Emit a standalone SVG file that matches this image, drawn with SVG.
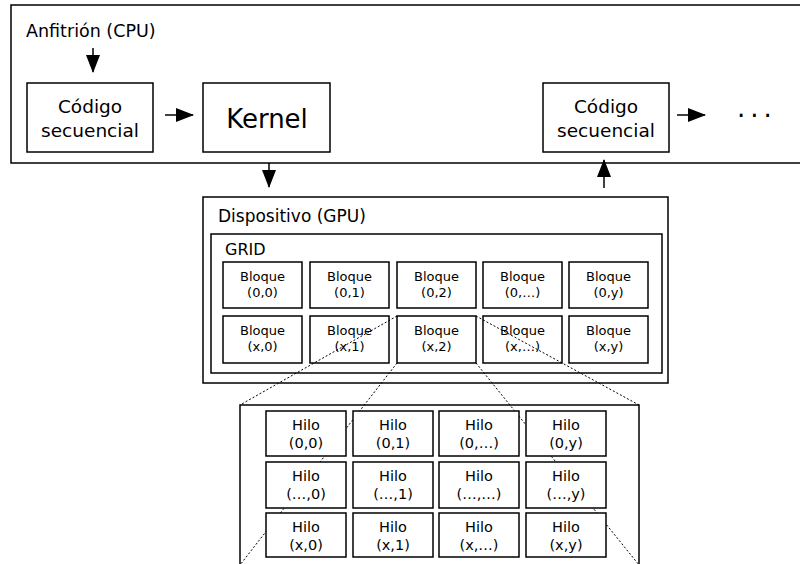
<svg xmlns="http://www.w3.org/2000/svg" width="800" height="564" viewBox="0 0 800 564">
<defs>
<style>
.box{fill:#fff;stroke:#000;stroke-width:1.5}
.frame{fill:none;stroke:#000;stroke-width:1.5}
.t{font-family:"DejaVu Sans","Liberation Sans",sans-serif;fill:#000}
.c{text-anchor:middle}
.arr{stroke:#000;stroke-width:1.5;fill:none;marker-end:url(#ah)}
.dot{stroke:#000;stroke-width:1;stroke-dasharray:2 2;fill:none}
.b{font-size:13px}
.h{font-size:14.5px}
</style>
<marker id="ah" viewBox="0 0 18 14" refX="17" refY="7" markerWidth="18" markerHeight="14" markerUnits="userSpaceOnUse" orient="auto">
<path d="M0,0 L18,7 L0,14 z" fill="#000"/>
</marker>
</defs>
<rect width="800" height="564" fill="#fff"/>

<g id="host">
<rect class="frame" x="11" y="5" width="800" height="158"/>
<text class="t" x="26" y="37" font-size="17.5">Anfitrión (CPU)</text>
</g>
<g id="codigo1">
<rect class="box" x="27" y="83" width="126" height="69"/>
<text class="t c" x="90" y="113" font-size="18.5">Código</text>
<text class="t c" x="90" y="137" font-size="18.5">secuencial</text>
</g>
<g id="kernel">
<rect class="box" x="203" y="83" width="127" height="69"/>
<text class="t c" x="267" y="128" font-size="26">Kernel</text>
</g>
<g id="codigo2">
<rect class="box" x="543" y="83" width="126" height="69"/>
<text class="t c" x="606" y="113" font-size="18.5">Código</text>
<text class="t c" x="606" y="137" font-size="18.5">secuencial</text>
</g>
<g id="ellipsis">
<text class="t" x="737" y="117" font-size="26" letter-spacing="5">...</text>
</g>

<g id="device">
<rect class="frame" x="203" y="197" width="465" height="186"/>
<text class="t" x="218" y="222" font-size="17">Dispositivo (GPU)</text>
</g>
<g id="grid">
<rect class="frame" x="211" y="234" width="451" height="139"/>
<text class="t" x="225" y="255" font-size="16">GRID</text>
</g>

<g id="bloques">
<g id="b00"><rect class="box" x="223" y="262" width="79" height="46"/><text class="t c b" x="262.5" y="281">Bloque</text><text class="t c b" x="262.5" y="297">(0,0)</text></g>
<g id="b01"><rect class="box" x="310" y="262" width="79" height="46"/><text class="t c b" x="349.5" y="281">Bloque</text><text class="t c b" x="349.5" y="297">(0,1)</text></g>
<g id="b02"><rect class="box" x="397" y="262" width="79" height="46"/><text class="t c b" x="436.5" y="281">Bloque</text><text class="t c b" x="436.5" y="297">(0,2)</text></g>
<g id="b03"><rect class="box" x="483" y="262" width="79" height="46"/><text class="t c b" x="522.5" y="281">Bloque</text><text class="t c b" x="522.5" y="297">(0,…)</text></g>
<g id="b04"><rect class="box" x="569" y="262" width="79" height="46"/><text class="t c b" x="608.5" y="281">Bloque</text><text class="t c b" x="608.5" y="297">(0,y)</text></g>
<g id="b10"><rect class="box" x="223" y="316" width="79" height="47"/><text class="t c b" x="262.5" y="335">Bloque</text><text class="t c b" x="262.5" y="351">(x,0)</text></g>
<g id="b11"><rect class="box" x="310" y="316" width="79" height="47"/><text class="t c b" x="349.5" y="335">Bloque</text><text class="t c b" x="349.5" y="351">(x,1)</text></g>
<g id="b12"><rect class="box" x="397" y="316" width="79" height="47"/><text class="t c b" x="436.5" y="335">Bloque</text><text class="t c b" x="436.5" y="351">(x,2)</text></g>
<g id="b13"><rect class="box" x="483" y="316" width="79" height="47"/><text class="t c b" x="522.5" y="335">Bloque</text><text class="t c b" x="522.5" y="351">(x,…)</text></g>
<g id="b14"><rect class="box" x="569" y="316" width="79" height="47"/><text class="t c b" x="608.5" y="335">Bloque</text><text class="t c b" x="608.5" y="351">(x,y)</text></g>
</g>

<g id="threads">
<rect class="frame" x="240" y="405" width="399" height="170"/>
</g>

<g id="connectors">
<line class="arr" x1="93" y1="48" x2="93" y2="72"/>
<line class="arr" x1="165" y1="115" x2="193" y2="115"/>
<line class="arr" x1="677" y1="115" x2="705" y2="115"/>
<line class="arr" x1="269" y1="163" x2="269" y2="187"/>
<line class="arr" x1="604" y1="188" x2="604" y2="160"/>
<line class="dot" x1="397" y1="316" x2="240" y2="405"/>
<line class="dot" x1="476" y1="316" x2="639" y2="405"/>
<line class="dot" x1="397" y1="363" x2="240" y2="565"/>
<line class="dot" x1="476" y1="363" x2="639" y2="565"/>
</g>

<g id="hilos">
<g id="h00"><rect class="box" x="266" y="411" width="80" height="45"/><text class="t c h" x="306" y="430">Hilo</text><text class="t c h" x="306" y="448">(0,0)</text></g>
<g id="h01"><rect class="box" x="353" y="411" width="80" height="45"/><text class="t c h" x="393" y="430">Hilo</text><text class="t c h" x="393" y="448">(0,1)</text></g>
<g id="h02"><rect class="box" x="439" y="411" width="80" height="45"/><text class="t c h" x="479" y="430">Hilo</text><text class="t c h" x="479" y="448">(0,…)</text></g>
<g id="h03"><rect class="box" x="526" y="411" width="80" height="45"/><text class="t c h" x="566" y="430">Hilo</text><text class="t c h" x="566" y="448">(0,y)</text></g>
<g id="h10"><rect class="box" x="266" y="462" width="80" height="46"/><text class="t c h" x="306" y="481">Hilo</text><text class="t c h" x="306" y="499">(…,0)</text></g>
<g id="h11"><rect class="box" x="353" y="462" width="80" height="46"/><text class="t c h" x="393" y="481">Hilo</text><text class="t c h" x="393" y="499">(…,1)</text></g>
<g id="h12"><rect class="box" x="439" y="462" width="80" height="46"/><text class="t c h" x="479" y="481">Hilo</text><text class="t c h" x="479" y="499">(…,…)</text></g>
<g id="h13"><rect class="box" x="526" y="462" width="80" height="46"/><text class="t c h" x="566" y="481">Hilo</text><text class="t c h" x="566" y="499">(…,y)</text></g>
<g id="h20"><rect class="box" x="266" y="513" width="80" height="44"/><text class="t c h" x="306" y="532">Hilo</text><text class="t c h" x="306" y="550">(x,0)</text></g>
<g id="h21"><rect class="box" x="353" y="513" width="80" height="44"/><text class="t c h" x="393" y="532">Hilo</text><text class="t c h" x="393" y="550">(x,1)</text></g>
<g id="h22"><rect class="box" x="439" y="513" width="80" height="44"/><text class="t c h" x="479" y="532">Hilo</text><text class="t c h" x="479" y="550">(x,…)</text></g>
<g id="h23"><rect class="box" x="526" y="513" width="80" height="44"/><text class="t c h" x="566" y="532">Hilo</text><text class="t c h" x="566" y="550">(x,y)</text></g>
</g>
</svg>
